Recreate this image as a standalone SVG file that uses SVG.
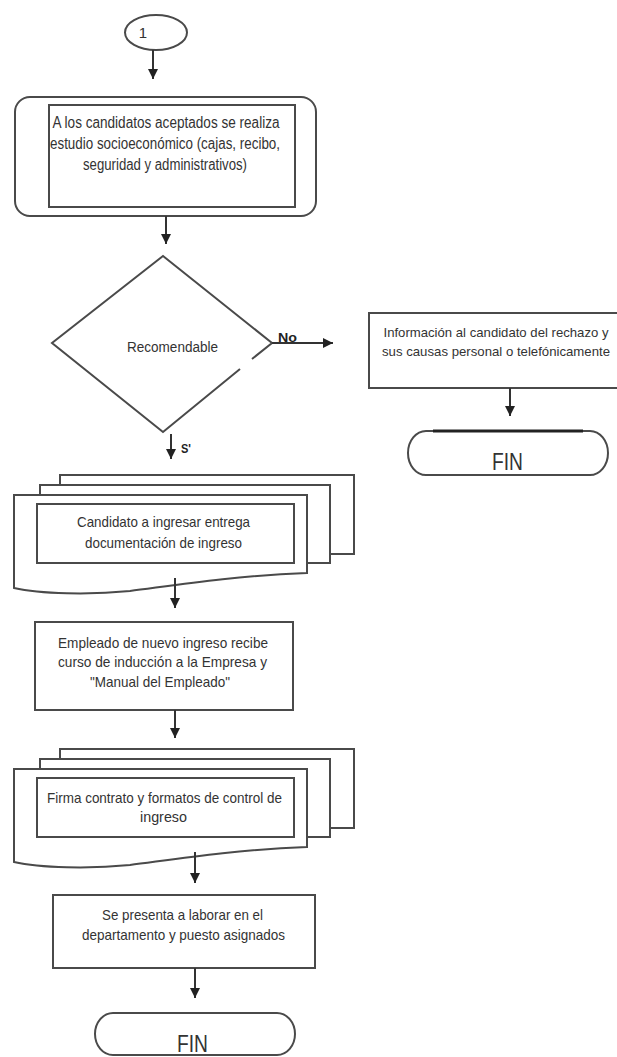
<svg xmlns="http://www.w3.org/2000/svg" width="617" height="1057" viewBox="0 0 617 1057">
<style>
.s{fill:#fff;stroke:#4a4a4a;stroke-width:2}
.t{font-family:"Liberation Sans",Arial,sans-serif;fill:#333;text-anchor:middle}
.c{stroke:#333;stroke-width:2;fill:none;marker-end:url(#ah)}
.l{font-family:"Liberation Sans",Arial,sans-serif;fill:#222;font-weight:bold}
</style>
<defs>
<marker id="ah" markerUnits="userSpaceOnUse" markerWidth="10" markerHeight="12" viewBox="0 0 10 12" refX="10" refY="6" orient="auto">
<path d="M0,1 L10,6 L0,11 Z" fill="#222"/>
</marker>
</defs>
<rect width="617" height="1057" fill="#fff"/>

<g id="start">
<ellipse class="s" cx="156" cy="32.5" rx="31" ry="17.5"/>
<text class="t" x="143" y="38" font-size="15">1</text>
</g>

<g id="estudio">
<rect class="s" x="15" y="97" width="301" height="119" rx="15"/>
<rect class="s" x="49" y="105" width="246" height="102"/>
<text class="t" x="166" y="128" font-size="16" textLength="227" lengthAdjust="spacingAndGlyphs">A los candidatos aceptados se realiza</text>
<text class="t" x="165" y="149" font-size="16" textLength="230" lengthAdjust="spacingAndGlyphs">estudio socioeconómico (cajas, recibo,</text>
<text class="t" x="165" y="170" font-size="16" textLength="164" lengthAdjust="spacingAndGlyphs">seguridad y administrativos)</text>
</g>

<g id="decision">
<path class="s" d="M252,359 L272,343 L163,256 L52,343 L163,432 L240,369"/>
<text class="t" x="172.5" y="352" font-size="14" textLength="91" lengthAdjust="spacingAndGlyphs">Recomendable</text>
</g>

<g id="rechazo">
<rect class="s" x="369" y="313" width="252" height="75"/>
<text class="t" x="496" y="337" font-size="13.5" textLength="225" lengthAdjust="spacingAndGlyphs">Información al candidato del rechazo y</text>
<text class="t" x="496" y="356" font-size="13.5" textLength="228" lengthAdjust="spacingAndGlyphs">sus causas personal o telefónicamente</text>
</g>

<g id="fin1">
<path class="s" d="M426,431 L590,431 A18,22 0 0 1 590,475 L426,475 A18,22 0 0 1 426,431 Z"/>
<line x1="433" y1="431" x2="583" y2="431" stroke="#222" stroke-width="3"/>
<text class="t" x="507.5" y="470" font-size="24" textLength="31" lengthAdjust="spacingAndGlyphs">FIN</text>
</g>

<g id="documentacion">
<rect class="s" x="60" y="475" width="294" height="79"/>
<rect class="s" x="40" y="485" width="290" height="78"/>
<path class="s" d="M14,495 L307,495 L307,573 C230,576 170,586 130,591 C90,595 40,594 14,588 Z"/>
<rect class="s" x="37" y="504" width="257" height="59"/>
<text class="t" x="163.5" y="527" font-size="15" textLength="173" lengthAdjust="spacingAndGlyphs">Candidato a ingresar entrega</text>
<text class="t" x="163.5" y="548" font-size="15" textLength="157" lengthAdjust="spacingAndGlyphs">documentación de ingreso</text>
</g>

<g id="induccion">
<rect class="s" x="35" y="622" width="258" height="88"/>
<text class="t" x="163" y="648" font-size="15" textLength="210" lengthAdjust="spacingAndGlyphs">Empleado de nuevo ingreso recibe</text>
<text class="t" x="162.5" y="667" font-size="15" textLength="209" lengthAdjust="spacingAndGlyphs">curso de inducción a la Empresa y</text>
<text class="t" x="160" y="687" font-size="15" textLength="140" lengthAdjust="spacingAndGlyphs">"Manual del Empleado"</text>
</g>

<g id="contrato">
<rect class="s" x="60" y="749" width="294" height="79"/>
<rect class="s" x="40" y="759" width="290" height="78"/>
<path class="s" d="M14,769 L307,769 L307,847 C230,850 170,860 130,865 C90,869 40,868 14,862 Z"/>
<rect class="s" x="37" y="778" width="257" height="59"/>
<text class="t" x="164.5" y="803" font-size="15" textLength="235" lengthAdjust="spacingAndGlyphs">Firma contrato y formatos de control de</text>
<text class="t" x="163.5" y="822" font-size="15" textLength="47" lengthAdjust="spacingAndGlyphs">ingreso</text>
</g>

<g id="labora">
<rect class="s" x="53" y="895" width="262" height="73"/>
<text class="t" x="182.5" y="920" font-size="15" textLength="161" lengthAdjust="spacingAndGlyphs">Se presenta a laborar en el</text>
<text class="t" x="183.5" y="940" font-size="15" textLength="203" lengthAdjust="spacingAndGlyphs">departamento y puesto asignados</text>
</g>

<g id="fin2">
<path class="s" d="M113,1013 L277,1013 A18,21 0 0 1 277,1055 L113,1055 A18,21 0 0 1 113,1013 Z"/>
<text class="t" x="192.5" y="1052" font-size="24" textLength="31" lengthAdjust="spacingAndGlyphs">FIN</text>
</g>

<g id="connectors">
<line class="c" x1="153" y1="50" x2="153" y2="79"/>
<line class="c" x1="166" y1="216" x2="166" y2="244"/>
<line class="c" x1="272" y1="343" x2="333" y2="343"/>
<line class="c" x1="171" y1="434" x2="171" y2="459"/>
<line class="c" x1="510" y1="388" x2="510" y2="416"/>
<line class="c" x1="175" y1="578" x2="175" y2="608"/>
<line class="c" x1="175" y1="710" x2="175" y2="738"/>
<line class="c" x1="195" y1="852" x2="195" y2="883"/>
<line class="c" x1="195" y1="968" x2="195" y2="998"/>
<text class="l" x="278" y="342" font-size="12" textLength="19" lengthAdjust="spacingAndGlyphs">No</text>
<text class="l" x="181" y="453" font-size="13" textLength="10" lengthAdjust="spacingAndGlyphs">S'</text>
</g>
</svg>
